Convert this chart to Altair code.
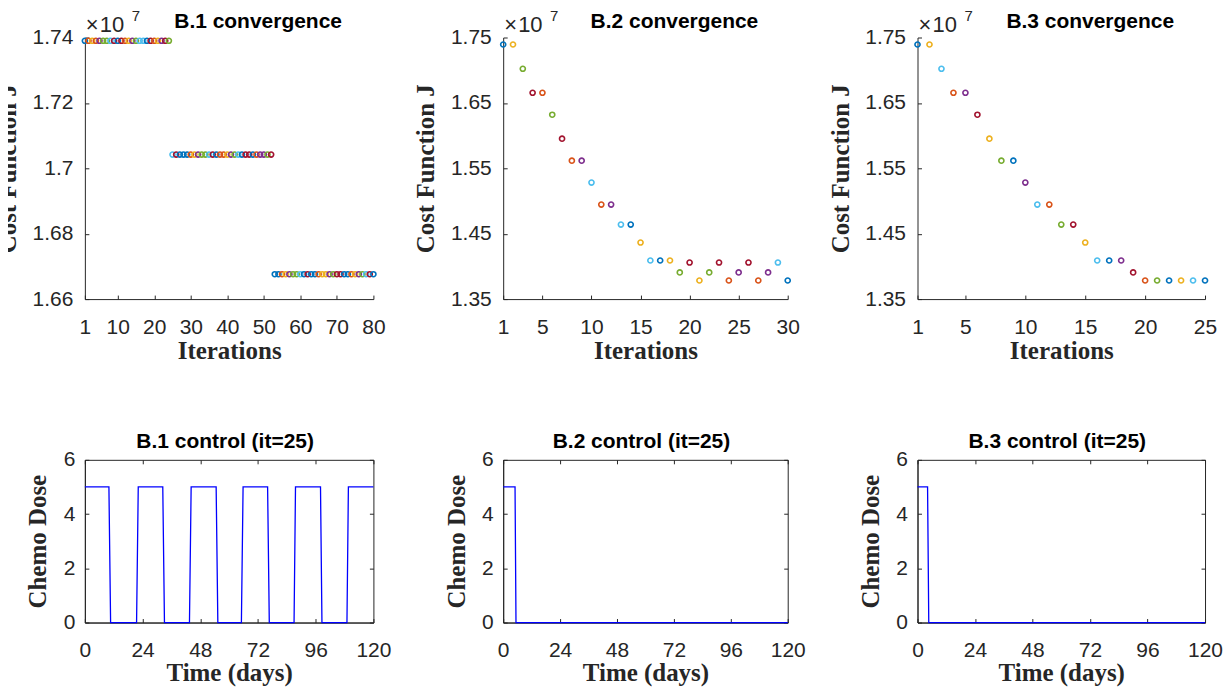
import altair as alt
import pandas as pd

# ---------------- data ----------------
color_names = ["blue", "orange", "yellow", "purple", "green", "lightblue", "darkred"]
color_hex = ["#0072BD", "#D95319", "#EDB120", "#7E2F8E", "#77AC30", "#4DBEEE", "#A2142F"]

# B.1 convergence (cost in units of 1e7)
b1_iter = list(range(1, 81))
b1_cost = [1.7390] * 24 + [1.7042] * 28 + [1.6676] * 28
b1_color = (
    ["blue", "orange", "yellow", "orange", "purple", "green", "green", "lightblue",
     "darkred", "blue", "darkred", "orange", "yellow", "purple", "green", "lightblue",
     "lightblue", "blue", "darkred", "orange", "yellow", "purple", "darkred", "green"]
    + ["lightblue", "darkred", "blue", "blue", "blue", "orange", "yellow", "purple",
       "green", "green", "lightblue", "darkred", "blue", "orange", "orange", "yellow",
       "purple", "green", "lightblue", "blue", "darkred", "darkred", "blue", "orange",
       "purple", "purple", "green", "darkred"]
    + ["blue", "blue", "orange", "yellow", "purple", "green", "green", "lightblue",
       "blue", "darkred", "blue", "blue", "orange", "yellow", "yellow", "purple",
       "green", "darkred", "darkred", "blue", "blue", "orange", "yellow", "purple",
       "green", "lightblue", "darkred", "blue"]
)

# B.2 convergence
b2_iter = list(range(1, 31))
b2_cost = [1.7393, 1.7393, 1.7022, 1.6655, 1.6655, 1.6319, 1.5953, 1.5617, 1.5617, 1.5281,
           1.4945, 1.4945, 1.4639, 1.4639, 1.4365, 1.4090, 1.4090, 1.4090, 1.3907, 1.4059,
           1.3784, 1.3907, 1.4059, 1.3784, 1.3907, 1.4059, 1.3784, 1.3907, 1.4059, 1.3784]
b2_color = ["blue", "yellow", "green", "darkred", "orange", "green", "darkred", "orange", "purple", "lightblue",
            "orange", "purple", "lightblue", "blue", "yellow", "lightblue", "blue", "yellow", "green", "darkred",
            "yellow", "green", "darkred", "orange", "purple", "darkred", "orange", "purple", "lightblue", "blue"]

# B.3 convergence
b3_iter = list(range(1, 26))
b3_cost = [1.7393, 1.7393, 1.7022, 1.6655, 1.6655, 1.6319, 1.5953, 1.5617, 1.5617, 1.5281,
           1.4945, 1.4945, 1.4639, 1.4639, 1.4365, 1.4090, 1.4090, 1.4090, 1.3907, 1.3784,
           1.3784, 1.3784, 1.3784, 1.3784, 1.3784]
b3_color = ["blue", "yellow", "lightblue", "orange", "purple", "darkred", "yellow", "green", "blue", "purple",
            "lightblue", "orange", "green", "darkred", "yellow", "lightblue", "blue", "purple", "darkred", "orange",
            "green", "blue", "yellow", "lightblue", "blue"]

# Controls (it=25)
b1_t = [0, 10, 10.7, 21.5, 22.2, 32.4, 33.1, 43.5, 44.2, 54.6, 55.3, 65.1, 65.8, 76, 76.7,
        87, 87.6, 98, 98.6, 109, 109.6, 120]
b1_u = [5, 5, 0, 0, 5, 5, 0, 0, 5, 5, 0, 0, 5, 5, 0, 0, 5, 5, 0, 0, 5, 5]
b2_t = [0, 5, 5.4, 120]
b2_u = [5, 5, 0, 0]
b3_t = [0, 4.2, 4.7, 120]
b3_u = [5, 5, 0, 0]

conv_titles = ["B.1 convergence", "B.2 convergence", "B.3 convergence"]
ctrl_titles = ["B.1 control (it=25)", "B.2 control (it=25)", "B.3 control (it=25)"]
x_ticks_conv = [[1, 10, 20, 30, 40, 50, 60, 70, 80], [1, 5, 10, 15, 20, 25, 30], [1, 5, 10, 15, 20, 25]]
y_ticks_b1 = [1.66, 1.68, 1.70, 1.72, 1.74]
y_ticks_b23 = [1.35, 1.45, 1.55, 1.65, 1.75]
t_ticks = [0, 24, 48, 72, 96, 120]
u_ticks = [0, 2, 4, 6]

# ---------------- styling ----------------
WIDTHS = [289, 285, 288]
H_TOP, H_BOT = 262, 163
DARK = "#262626"
SANS = "Liberation Sans"
SERIF = "Liberation Serif"
TICK = 4

lab = dict(labelFont=SANS, labelFontSize=21, labelColor=DARK, grid=False,
           domainColor=DARK, domainWidth=1, tickColor=DARK, tickWidth=1)
ttl = dict(titleFont=SERIF, titleFontSize=25, titleFontWeight="bold", titleColor=DARK)


def main_x(values, title, title_y):
    return alt.Axis(orient="bottom", values=values, ticks=False, tickSize=0, labelPadding=34,
                    labelBaseline="alphabetic", title=title, titleY=title_y,
                    titleBaseline="alphabetic", labelFlush=False, labelOverlap=False, **lab, **ttl)


def main_y(values, title, title_x, pad, fmt):
    return alt.Axis(orient="left", values=values, ticks=False, tickSize=0, labelPadding=pad,
                    title=title, titleX=title_x, titleBaseline="alphabetic", format=fmt,
                    labelFlush=False, labelOverlap=False, **lab, **ttl)


def tick_axis(orient, values):
    return alt.Axis(orient=orient, values=values, offset=-TICK, tickSize=TICK, labels=False,
                    domain=False, title=None, grid=False, tickColor=DARK, tickWidth=1)


def text_label(txt, x, y, size, bold=False, align="left", color=DARK):
    return alt.Chart(pd.DataFrame({"s": [txt]})).mark_text(
        align=align, baseline="alphabetic", font=SANS, fontSize=size,
        fontWeight="bold" if bold else "normal", color=color
    ).encode(text="s:N", x=alt.value(x), y=alt.value(y))


def conv_panel(i, it, cost, cols, ydom, yticks):
    df = pd.DataFrame({"it": it, "J": cost, "c": cols})
    xs = alt.Scale(domain=[it[0], it[-1]], nice=False, zero=False)
    ys = alt.Scale(domain=ydom, nice=False, zero=False)
    pts = alt.Chart(df).mark_point(shape="circle", filled=False, size=26, strokeWidth=1.6, opacity=1).encode(
        x=alt.X("it:Q", scale=xs, axis=main_x(x_ticks_conv[i], "Iterations", 60)),
        y=alt.Y("J:Q", scale=ys, axis=main_y(yticks, "Cost Function J", -69.5, 12, ".2~f")),
        color=alt.Color("c:N", scale=alt.Scale(domain=color_names, range=color_hex), legend=None),
    )
    ticks = alt.Chart(df).mark_point(opacity=0).encode(
        x=alt.X("it:Q", scale=xs, axis=tick_axis("bottom", x_ticks_conv[i])),
        y=alt.Y("J:Q", scale=ys, axis=tick_axis("left", yticks)),
    )
    layer = alt.layer(
        pts, ticks,
        text_label("×", 1, -6, 22), text_label("10", 15, -6, 22), text_label("7", 47, -17, 15),
        text_label(conv_titles[i], WIDTHS[i] / 2 + 29, -10, 21, bold=True, align="center", color="#000000"),
    ).resolve_axis(x="independent", y="independent").properties(width=WIDTHS[i], height=H_TOP)
    return layer


def ctrl_panel(i, t, u):
    df = pd.DataFrame({"t": t, "u": u})
    xs = alt.Scale(domain=[0, 120], nice=False, zero=False)
    ys = alt.Scale(domain=[0, 6], nice=False, zero=False)
    line = alt.Chart(df).mark_line(color="#0000FF", strokeWidth=1.3).encode(
        x=alt.X("t:Q", scale=xs, axis=main_x(t_ticks, "Time (days)", 58)),
        y=alt.Y("u:Q", scale=ys, axis=main_y(u_ticks, "Chemo Dose", -39, 10, "d")),
        order="t:Q",
    )
    tk1 = alt.Chart(df).mark_point(opacity=0).encode(
        x=alt.X("t:Q", scale=xs, axis=tick_axis("bottom", t_ticks)),
        y=alt.Y("u:Q", scale=ys, axis=tick_axis("left", u_ticks)),
    )
    tk2 = alt.Chart(df).mark_point(opacity=0).encode(
        x=alt.X("t:Q", scale=xs, axis=tick_axis("top", t_ticks)),
        y=alt.Y("u:Q", scale=ys, axis=tick_axis("right", u_ticks)),
    )
    layer = alt.layer(
        line, tk1, tk2,
        text_label(ctrl_titles[i], WIDTHS[i] / 2 - 4, -11.7, 21, bold=True, align="center", color="#000000"),
        view=alt.ViewBackground(stroke=DARK, strokeWidth=1),
    ).resolve_axis(x="independent", y="independent").properties(width=WIDTHS[i], height=H_BOT)
    return layer


panels = [
    conv_panel(0, b1_iter, b1_cost, b1_color, [1.66, 1.74], y_ticks_b1),
    conv_panel(1, b2_iter, b2_cost, b2_color, [1.35, 1.75], y_ticks_b23),
    conv_panel(2, b3_iter, b3_cost, b3_color, [1.35, 1.75], y_ticks_b23),
    ctrl_panel(0, b1_t, b1_u),
    ctrl_panel(1, b2_t, b2_u),
    ctrl_panel(2, b3_t, b3_u),
]

chart = alt.concat(
    *panels, columns=3, spacing={"row": 161, "column": 130}, bounds="flush"
).configure_view(stroke=None).properties(
    padding={"left": -13, "top": 0, "right": 0, "bottom": 0}, background="#ffffff"
)

chart.save("out.html", embed_options={"renderer": "svg", "actions": False})
